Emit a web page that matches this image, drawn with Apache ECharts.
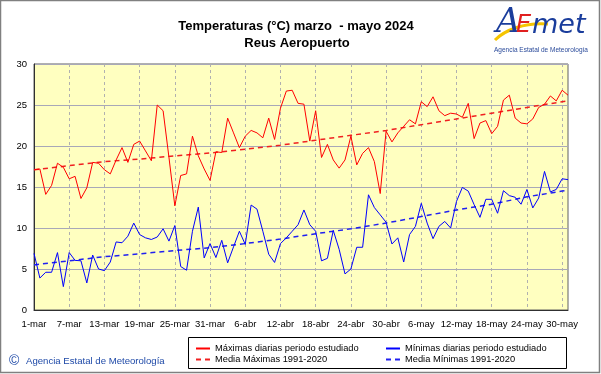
<!DOCTYPE html>
<html><head><meta charset="utf-8">
<script src="https://cdn.jsdelivr.net/npm/echarts/dist/echarts.min.js"></script>
<style>html,body{margin:0;padding:0;background:#fff}#c{width:601px;height:374px}</style>
</head><body><div id="c"></div><script>
// Category labels (days 1-mar .. 31-may 2024)
const monthNames = ['mar', 'abr', 'may'];
const monthDays = [31, 30, 31];
const dates = [];
monthNames.forEach((m, k) => { for (let d = 1; d <= monthDays[k]; d++) dates.push(d + '-' + m); });

// Daily maximum temperatures (°C)
const maxT = [17.1,17.2,14.1,15.2,17.9,17.4,16.0,16.3,13.6,14.9,
  18.0,17.9,17.1,16.6,18.3,19.8,18.0,20.2,20.6,19.4,
  18.2,25.0,24.3,18.6,12.7,16.4,16.6,21.2,18.8,17.2,
  15.8,19.3,19.2,23.4,21.6,19.8,21.2,21.9,21.6,21.0,
  23.4,20.8,24.6,26.7,26.8,25.2,25.1,20.6,24.3,18.6,
  20.2,18.3,17.3,18.3,21.2,17.7,19.1,19.8,18.1,14.2,
  21.8,20.5,21.6,22.4,23.2,22.7,25.4,24.8,26.0,24.3,
  23.7,24.0,23.9,23.5,25.2,20.9,22.8,23.1,21.5,22.4,
  25.6,26.2,23.4,22.8,22.7,23.3,24.7,25.1,26.1,25.5,
  26.8,26.2];
// Daily minimum temperatures (°C)
const minT = [6.9,3.9,4.6,4.6,7.0,2.85,7.0,6.05,6.0,3.3,
  6.7,5.0,4.8,5.85,8.3,8.2,9.0,10.6,9.2,8.8,
  8.6,8.9,9.9,8.4,10.3,5.3,4.85,9.6,12.55,6.35,
  8.1,6.4,8.5,5.75,7.7,9.6,8.0,12.8,12.3,9.6,
  6.8,5.8,8.1,8.8,9.6,10.4,12.2,10.4,9.6,6.0,
  6.3,9.7,7.4,4.4,5.0,7.65,7.65,14.05,12.5,11.6,
  10.7,8.05,8.8,5.85,9.2,10.2,13.0,10.6,8.7,10.2,
  10.8,10.0,13.25,14.95,14.5,12.85,11.3,13.5,13.5,11.8,
  14.55,13.95,13.75,12.9,14.7,12.45,13.65,16.9,14.4,14.7,
  16.0,15.9];
// Climatological normals 1991-2020, read at these day indices
const normDays = [0,6,12,18,24,30,36,42,48,54,60,66,72,78,84,90,91];
const normMax = [17.1,17.6,18.1,18.4,18.8,19.15,19.6,20.1,20.7,21.3,21.9,22.6,23.3,24.0,24.7,25.4,25.5];
const normMin = [5.5,6.0,6.5,6.85,7.25,7.6,8.1,8.65,9.3,9.9,10.6,11.4,12.2,12.9,13.8,14.5,14.6];

const names = ['Máximas diarias periodo estudiado','Mínimas diarias periodo estudiado','Media Máximas 1991-2020','Media Mínimas 1991-2020'];
const FONT = 'Liberation Sans';

const chart = echarts.init(document.getElementById('c'), null, {renderer: 'canvas'});
function leg(name, left, top) {
  return {data: [name], left: left, top: top, padding: 0, itemWidth: 14, itemHeight: 8,
    itemStyle: {opacity: 0, borderWidth: 0},
    textStyle: {fontSize: 9.3, color: '#000', fontFamily: FONT}, selectedMode: false};
}
chart.setOption({
  animation: false,
  backgroundColor: '#fff',
  grid: {left: 34, right: 33, top: 64, bottom: 64, show: true, backgroundColor: '#FFFFC0', borderColor: '#606060', borderWidth: 1},
  xAxis: {type: 'category', data: dates, boundaryGap: false,
    axisLine: {lineStyle: {color: '#303030'}}, axisTick: {show: false},
    axisLabel: {interval: 5, fontSize: 9.5, color: '#000', margin: 9, fontFamily: FONT},
    splitLine: {show: true, interval: 5, lineStyle: {color: '#b0b0b0', type: [3, 3]}}},
  yAxis: {type: 'value', min: 0, max: 30, interval: 5,
    axisLine: {show: true, lineStyle: {color: '#303030'}}, axisTick: {show: false},
    axisLabel: {fontSize: 9.5, color: '#000', margin: 7, fontFamily: FONT},
    splitLine: {lineStyle: {color: '#a8a8b8'}}},
  legend: [leg(names[0], 195, 344), leg(names[2], 195, 355), leg(names[1], 385, 344), leg(names[3], 385, 355)],
  series: [
    {name: names[2], type: 'line', data: normDays.map((d, i) => [d, normMax[i]]), symbol: 'none', z: 2,
      color: '#f02020', lineStyle: {width: 1.5, type: [5, 4], color: '#f02020'}},
    {name: names[3], type: 'line', data: normDays.map((d, i) => [d, normMin[i]]), symbol: 'none', z: 2,
      color: '#2020f0', lineStyle: {width: 1.5, type: [5, 4], color: '#2020f0'}},
    {name: names[0], type: 'line', data: maxT, symbol: 'none', z: 3, color: '#ff0000', lineStyle: {width: 1, color: '#ff0000'}},
    {name: names[1], type: 'line', data: minT, symbol: 'none', z: 3, color: '#0000ff', lineStyle: {width: 1, color: '#0000ff'}}
  ],
  graphic: [
    {type: 'rect', shape: {x: 0.5, y: 0.5, width: 599, height: 372}, style: {fill: 'none', stroke: '#808080', lineWidth: 1.5}, silent: true},
    {type: 'text', x: 296, y: 26, style: {text: 'Temperaturas (°C) marzo  - mayo 2024', fontSize: 13, fontWeight: 'bold', fontFamily: FONT, fill: '#000', align: 'center', verticalAlign: 'middle'}},
    {type: 'text', x: 297, y: 43, style: {text: 'Reus Aeropuerto', fontSize: 13, fontWeight: 'bold', fontFamily: FONT, fill: '#000', align: 'center', verticalAlign: 'middle'}},
    {type: 'rect', shape: {x: 188.5, y: 337.5, width: 378, height: 31}, style: {fill: 'none', stroke: '#000', lineWidth: 1}},
    {type: 'text', x: 9, y: 361, style: {text: '©', fontSize: 14, fontFamily: FONT, fill: '#1f4aa8', verticalAlign: 'middle'}},
    {type: 'text', x: 26, y: 361, style: {text: 'Agencia Estatal de Meteorología', fontSize: 9.6, fontFamily: FONT, fill: '#1f4aa8', verticalAlign: 'middle'}},
    // logo
    {type: 'bezierCurve', shape: {x1: 495, y1: 40, cpx1: 505, cpy1: 30, cpx2: 525, cpy2: 22, x2: 548, y2: 24}, style: {stroke: '#f5c400', lineWidth: 3, fill: 'none'}},
    {type: 'text', x: 496, y: 23, style: {text: 'A', fontSize: 34, fontStyle: 'italic', fontFamily: 'DejaVu Serif', fill: '#1a3d9c', verticalAlign: 'middle'}},
    {type: 'text', x: 516, y: 26, style: {text: 'E', fontSize: 24, fontStyle: 'italic', fontFamily: 'DejaVu Sans', fill: '#e02020', verticalAlign: 'middle'}},
    {type: 'text', x: 532, y: 26, style: {text: 'met', fontSize: 27, fontStyle: 'italic', fontFamily: 'DejaVu Sans', fill: '#1a3d9c', verticalAlign: 'middle'}},
    {type: 'text', x: 541, y: 50, style: {text: 'Agencia Estatal de Meteorología', fontSize: 6.5, fontFamily: FONT, fill: '#2a4a9a', align: 'center', verticalAlign: 'middle'}}
  ]
});
</script></body></html>
